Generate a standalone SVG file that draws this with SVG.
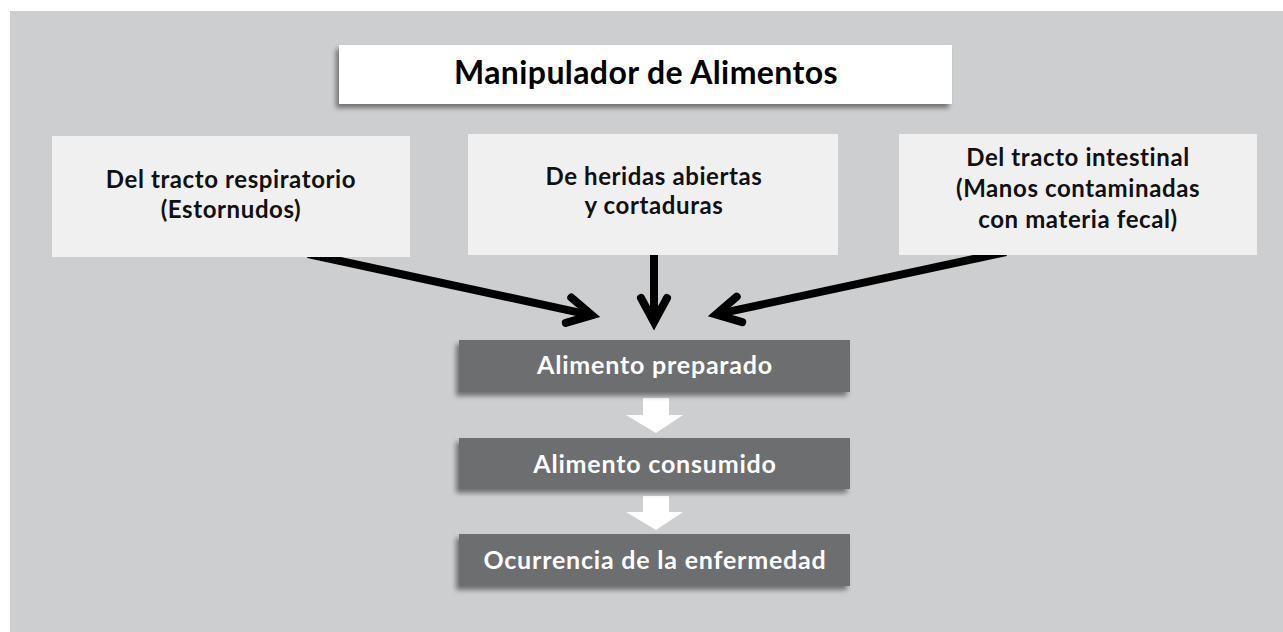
<svg xmlns="http://www.w3.org/2000/svg" width="1283" height="632" viewBox="0 0 1283 632">
  <defs>
    <style>
      .bg { fill: #CDCED0; }
      .title-box { fill: #FFFFFF; }
      .src-box { fill: #F0F0F0; }
      .step-box { fill: #6D6E70; }
      .t { font-family: Lato, "Open Sans", "Liberation Sans", sans-serif; font-weight: bold; text-anchor: middle; }
      .title { font-size: 32px; letter-spacing: 0.4px; fill: #000000; }
      .src { font-size: 24px; letter-spacing: 0.6px; fill: #111111; }
      .step { font-size: 25px; letter-spacing: 0.8px; fill: #FFFFFF; }
      .conn { stroke: #000000; stroke-width: 8; fill: none; marker-end: url(#chev); }
      .flow { fill: #FFFFFF; }
    </style>
    <filter id="shadow" x="-10%" y="-30%" width="120%" height="170%">
      <feDropShadow dx="-3" dy="4" stdDeviation="2.5" flood-color="#000000" flood-opacity="0.45"/>
    </filter>
    <marker id="chev" markerUnits="userSpaceOnUse" orient="auto" refX="0" refY="0" markerWidth="60" markerHeight="60" viewBox="-40 -30 60 60" overflow="visible">
      <path d="M-24,-13 L0,0 L-24,13" fill="none" stroke="#000000" stroke-width="8" stroke-linecap="round" stroke-linejoin="miter" stroke-miterlimit="10"/>
    </marker>
  </defs>

  <rect class="bg" x="10" y="11" width="1273" height="621"/>

  <g id="connectors">
    <path class="conn" d="M308,254 L592,315.3"/>
    <path class="conn" d="M654,250 L654,322"/>
    <path class="conn" d="M1006,252 L716,314.4"/>
    <path class="flow" d="M643,398 L669,398 L669,415 L683,415 L656,433 L626,415 L643,415 Z"/>
    <path class="flow" d="M643,496 L669,496 L669,512 L683,512 L656,530 L626,512 L643,512 Z"/>
  </g>

  <g id="node-title">
    <rect class="title-box" x="339" y="45" width="613" height="59" filter="url(#shadow)"/>
    <text class="t title" x="646" y="84">Manipulador de Alimentos</text>
  </g>

  <g id="node-respiratorio">
    <rect class="src-box" x="52" y="136" width="358" height="121"/>
    <text class="t src" x="231" y="188">Del tracto respiratorio</text>
    <text class="t src" x="231" y="218">(Estornudos)</text>
  </g>

  <g id="node-heridas">
    <rect class="src-box" x="468" y="134" width="370" height="121"/>
    <text class="t src" x="654" y="185">De heridas abiertas</text>
    <text class="t src" x="654" y="214">y cortaduras</text>
  </g>

  <g id="node-intestinal">
    <rect class="src-box" x="899" y="134" width="358" height="121"/>
    <text class="t src" x="1078" y="166">Del tracto intestinal</text>
    <text class="t src" x="1078" y="197">(Manos contaminadas</text>
    <text class="t src" x="1078" y="228">con materia fecal)</text>
  </g>

  <g id="node-preparado">
    <rect class="step-box" x="459" y="340" width="391" height="52" filter="url(#shadow)"/>
    <text class="t step" x="655" y="374">Alimento preparado</text>
  </g>

  <g id="node-consumido">
    <rect class="step-box" x="459" y="438" width="391" height="51" filter="url(#shadow)"/>
    <text class="t step" x="655" y="473">Alimento consumido</text>
  </g>

  <g id="node-enfermedad">
    <rect class="step-box" x="459" y="534" width="391" height="52" filter="url(#shadow)"/>
    <text class="t step" x="655" y="569">Ocurrencia de la enfermedad</text>
  </g>
</svg>
